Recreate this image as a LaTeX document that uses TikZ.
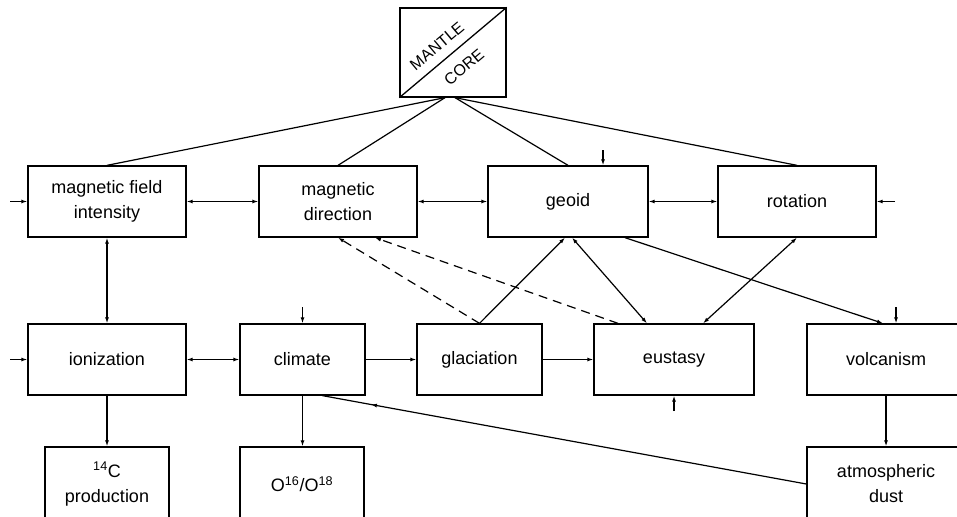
\documentclass[tikz,border=0pt]{standalone}
\usepackage{fontspec}
\setmainfont{Liberation Sans}
\usetikzlibrary{arrows.meta,calc,decorations.markings}
\tikzset{
  box/.style={draw, line width=1.3pt, minimum width=158pt, minimum height=71pt, inner sep=0pt, align=center, font=\fontsize{18}{25}\selectfont},
  con/.style={line width=1.2pt},
  tip/.style={-{Latex[length=6pt,width=4pt]}},
  dtip/.style={{Latex[length=6pt,width=4pt]}-{Latex[length=6pt,width=4pt]}},
  dashln/.style={dash pattern=on 9pt off 6pt},
  midtip/.style={decoration={markings, mark=at position #1 with {\arrow{Latex[length=6pt,width=4pt]}}}, postaction={decorate}},
  diagtext/.style={rotate=40, font=\fontsize{16}{18}\selectfont, inner sep=0pt}
}
\begin{document}
\begin{tikzpicture}[x=1pt,y=-1pt]
\useasboundingbox (0,0) rectangle (957,516);
\clip (0,0) rectangle (957,516);
% mantle/core
\node[box, minimum width=106pt, minimum height=89pt] (mc) at (453,52.5) {};
\draw[line width=1.3pt] (mc.south west) -- (mc.north east);
\node[diagtext] (mantle) at (437,46) {MANTLE};
\node[diagtext] (core) at (464,67) {CORE};
% row 1
\node[box] (mfi) at (107,201.5) {magnetic field\\intensity};
\node[box] (md) at (338,201.5) {magnetic\\direction};
\node[box, minimum width=160pt] (geoid) at (568,201.5) {geoid};
\node[box] (rot) at (797,201.5) {rotation};
% row 2
\node[box] (ion) at (107,359.5) {ionization};
\node[box, minimum width=125pt] (clim) at (302.5,359.5) {climate};
\node[box, minimum width=125pt] (glac) at (479.5,359.5) {glaciation};
\node[box, minimum width=160pt] (eust) at (674,359.5) {eustasy};
\node[box] (volc) at (886,359.5) {volcanism};
% row 3
\node[box, minimum width=124pt, minimum height=74pt] (c14) at (107,484) {\textsuperscript{14}C\\production};
\node[box, minimum width=124pt, minimum height=74pt] (oxy) at (302,484) {O\textsuperscript{16}/O\textsuperscript{18}};
\node[box, minimum height=74pt] (dust) at (886,484) {atmospheric\\dust};
% mantle lines
\draw[con] ($(mc.south)+(-8,0)$) -- (mfi.north);
\draw[con] ($(mc.south)+(-8,0)$) -- (md.north);
\draw[con] ($(mc.south)+(2,0)$) -- (geoid.north);
\draw[con] ($(mc.south)+(2,0)$) -- (rot.north);
% external inputs
\coordinate (inmfi) at (10,201.5);
\coordinate (inrot) at (895,201.5);
\coordinate (ingeo) at (603,150);
\coordinate (inion) at (10,359.5);
\coordinate (inclim) at (302.5,307);
\coordinate (ineust) at (674,411);
\coordinate (involc) at (896,307);
\draw[con,tip] (inmfi) -- (mfi.west);
\draw[con,tip] (inrot) -- (rot.east);
\draw[con,tip] (ingeo) -- (ingeo |- geoid.north);
\draw[con,tip] (inion) -- (ion.west);
\draw[con,tip] (inclim) -- (clim.north);
\draw[con,tip] (ineust) -- (eust.south);
\draw[con,tip] (involc) -- (involc |- volc.north);
% horizontal links
\draw[con,dtip] (mfi.east) -- (md.west);
\draw[con,dtip] (md.east) -- (geoid.west);
\draw[con,dtip] (geoid.east) -- (rot.west);
\draw[con,dtip] (ion.east) -- (clim.west);
\draw[con,tip] (clim.east) -- (glac.west);
\draw[con,tip] (glac.east) -- (eust.west);
% verticals
\draw[con,dtip] (mfi.south) -- (ion.north);
\draw[con,tip] (ion.south) -- (c14.north);
\draw[con,tip] (clim.south) -- (clim.south |- oxy.north);
\draw[con,tip] (volc.south) -- (dust.north);
% diagonals
\draw[con,tip] (glac.north) -- ($(geoid.south)+(-3,0)$);
\draw[con,dtip] ($(geoid.south)+(4,0)$) -- ($(eust.north)+(-27,0)$);
\draw[con,dtip] (rot.south) -- ($(eust.north)+(29,0)$);
\draw[con,tip] ($(geoid.south)+(57,0)$) -- ($(volc.north)+(-3,0)$);
\draw[con,tip,dashln] (glac.north) -- (md.south);
\draw[con,tip,dashln] ($(eust.north)+(-56,0)$) -- ($(md.south)+(37,0)$);
\draw[con,midtip=0.9] (dust.west) -- ($(clim.south)+(20,0)$);
\end{tikzpicture}
\end{document}
